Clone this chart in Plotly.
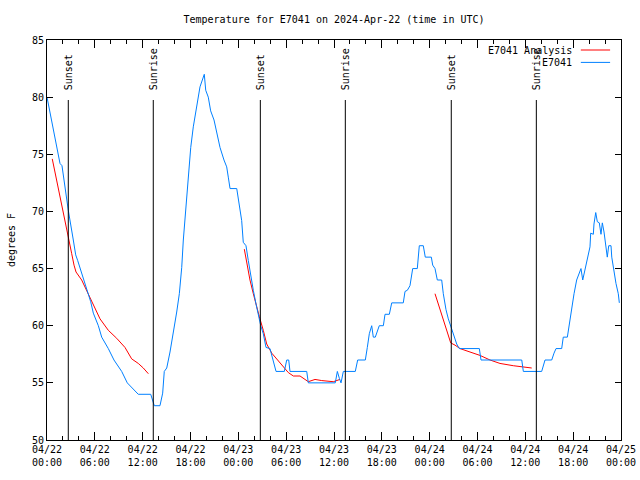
import plotly.graph_objects as go
import pandas as pd

START = pd.Timestamp("2024-04-22 00:00")
TITLE = "Temperature for E7041 on 2024-Apr-22 (time in UTC)"

# Observed temperature (hours after start, degrees F)
obs_hours = [0.0, 1.63, 1.88, 2.67, 3.30, 3.60, 3.85, 4.35, 4.98, 5.48, 5.81, 6.44, 6.86, 7.69, 8.40,
             9.37, 10.07, 11.45, 13.01, 13.33, 13.46, 14.17, 14.51, 14.71, 15.02, 15.43, 15.84, 16.27,
             16.60, 16.90, 17.10, 17.47, 17.72, 18.03, 18.35, 18.78, 19.19, 19.73, 19.91, 20.23, 20.53,
             20.95, 21.29, 21.70, 22.20, 22.54, 22.74, 22.96, 23.80, 24.00, 24.42, 24.62, 24.96, 25.25,
             25.55, 25.88, 26.22, 26.51, 26.81, 27.13, 27.47, 27.97, 28.31, 28.73, 29.77, 30.07, 30.32,
             30.48, 32.58, 32.78, 36.16, 36.42, 36.67, 36.88, 37.17, 38.67, 38.97, 39.93, 40.18, 40.43,
             40.73, 40.93, 41.18, 41.68, 42.19, 42.40, 42.94, 43.24, 44.69, 44.91, 45.20, 45.53, 45.87,
             46.45, 46.70, 47.20, 47.45, 48.21, 48.38, 48.67, 48.96, 49.51, 49.71, 49.84, 50.05, 50.34,
             50.64, 50.97, 51.39, 51.72, 54.23, 54.44, 59.55, 59.75, 62.05, 62.47, 63.31, 63.60, 63.85,
             64.56, 64.76, 65.27, 65.52, 65.82, 66.11, 66.44, 66.73, 66.98, 67.20, 67.49, 67.77, 68.11,
             68.20, 68.53, 68.61, 68.83, 69.03, 69.28, 69.49, 69.66, 69.87, 70.12, 70.28, 70.46, 70.75,
             70.84, 71.04, 71.37, 71.66, 71.79]
obs_temp = [80.0, 74.2, 74.0, 70.1, 67.5, 66.2, 65.7, 64.6, 63.3, 62.1, 61.1, 60.0, 59.0, 58.0, 57.0,
            56.0, 55.0, 54.0, 54.0, 53.3, 53.0, 53.0, 54.1, 56.0, 56.3, 57.7, 59.3, 61.2,
            62.8, 65.1, 67.5, 71.0, 73.3, 75.6, 77.4, 79.1, 80.9, 82.0, 80.6, 80.0, 78.8,
            78.0, 76.8, 75.6, 74.5, 73.9, 73.0, 72.0, 72.0, 71.0, 69.2, 67.3, 67.0, 65.7,
            64.3, 63.1, 61.9, 60.9, 60.0, 59.3, 58.1, 58.0, 57.0, 56.0, 56.0, 57.0, 57.0,
            56.0, 56.0, 55.0, 55.0, 56.0, 55.4, 55.0, 56.0, 56.0, 57.0, 57.0, 58.1, 59.3,
            60.0, 59.0, 59.0, 60.0, 60.0, 61.0, 61.0, 62.0, 62.0, 63.0, 63.1, 63.5, 65.0,
            65.0, 67.0, 67.0, 66.0, 66.0, 65.3, 65.0, 64.0, 64.0, 62.8, 62.2, 61.4, 60.6,
            60.0, 59.3, 58.4, 58.0, 58.0, 57.0, 57.0, 56.0, 56.0, 57.0, 57.0, 57.6, 58.0,
            58.0, 59.0, 59.0, 60.2, 61.6, 62.8, 64.0, 64.6, 65.0, 64.0, 65.0, 65.7, 66.9,
            68.1, 68.0, 68.9, 69.9, 69.1, 69.0, 68.0, 69.0, 68.2, 67.0, 66.0, 67.0, 67.0,
            66.0, 65.0, 63.7, 62.8, 62.0]

# Analysis temperature (None separates the nightly segments)
ana_hours = [0.66, 2.67, 3.10, 3.39, 3.64, 4.35, 5.18, 5.81, 6.65, 7.69, 8.74, 9.78, 10.62, 11.45, 12.08, 12.71,
             None,
             24.75, 25.05, 25.46, 25.88, 26.30, 26.63, 27.13, 27.56, 28.19, 29.23, 30.27, 30.90, 31.74,
             32.78, 33.62, 34.46, 35.91, 36.75,
             None,
             48.67, 49.08, 49.51, 50.14, 50.64, 51.18, 51.81, 53.06, 54.32, 55.57, 56.82, 58.49, 59.96, 60.80]
ana_temp = [74.6, 67.5, 66.3, 65.3, 64.7, 64.0, 62.8, 61.9, 60.6, 59.6, 58.9, 58.1, 57.1, 56.7, 56.3, 55.8,
            None,
            66.7, 65.4, 64.0, 62.8, 61.6, 60.8, 59.6, 58.4, 57.6, 56.7, 55.9, 55.6, 55.6,
            55.1, 55.3, 55.2, 55.1, 55.3,
            None,
            62.8, 61.9, 60.9, 59.5, 58.5, 58.3, 58.0, 57.7, 57.4, 57.0, 56.7, 56.5, 56.4, 56.3]

sun_names = ["Sunset", "Sunrise", "Sunset", "Sunrise", "Sunset", "Sunrise"]
sun_hours = [2.67, 13.33, 26.76, 37.42, 50.71, 61.38]

series_names = ["E7041 Analysis", "E7041"]
series_colors = ["#ff0000", "#0080ff"]


def to_time(hours):
    return [START + pd.Timedelta(hours=h) if h is not None else None for h in hours]


FONT = "DejaVu Sans Mono"

fig = go.Figure()
fig.add_trace(go.Scatter(x=to_time(ana_hours), y=ana_temp, mode="lines",
                         line=dict(color=series_colors[0], width=1), connectgaps=False,
                         name=series_names[0], showlegend=False))
fig.add_trace(go.Scatter(x=to_time(obs_hours), y=obs_temp, mode="lines",
                         line=dict(color=series_colors[1], width=1),
                         name=series_names[1], showlegend=False))

shapes = []
annotations = []
for name, h in zip(sun_names, sun_hours):
    t = START + pd.Timedelta(hours=h)
    shapes.append(dict(type="line", xref="x", yref="paper", x0=t, x1=t, y0=0, y1=0.85,
                       line=dict(color="black", width=1)))
    annotations.append(dict(x=t, y=0.87, xref="x", yref="paper", text=name, textangle=-90,
                            showarrow=False, xanchor="center", yanchor="bottom",
                            font=dict(family=FONT, size=10, color="black")))

# legend (gnuplot style: text right-aligned, sample to the right)
leg_y = [0.975, 0.944]
for name, col, ly in zip(series_names, series_colors, leg_y):
    annotations.append(dict(x=0.918, y=ly, xref="paper", yref="paper", text=name, showarrow=False,
                            xanchor="right", yanchor="middle",
                            font=dict(family=FONT, size=10, color="black")))
    shapes.append(dict(type="line", xref="paper", yref="paper", x0=0.930, x1=0.981, y0=ly, y1=ly,
                       line=dict(color=col, width=1)))

fig.update_layout(
    width=640, height=480,
    margin=dict(l=47, r=19, t=40, b=40, autoexpand=False),
    paper_bgcolor="white", plot_bgcolor="white",
    font=dict(family=FONT, size=10, color="black"),
    title=dict(text=TITLE, x=0.5, xref="paper", y=1 - 19 / 480, yref="container",
               xanchor="center", yanchor="middle", font=dict(family=FONT, size=10, color="black")),
    shapes=shapes, annotations=annotations, showlegend=False,
)
fig.update_xaxes(
    range=[START, START + pd.Timedelta(hours=72)], automargin=False,
    tick0=START, dtick=6 * 3600 * 1000, tickformat="%m/%d<br>%H:%M",
    ticks="inside", ticklen=8, tickcolor="black", showline=True, linecolor="black", linewidth=1,
    mirror="ticks", showgrid=False, zeroline=False,
    minor=dict(dtick=2 * 3600 * 1000, ticks="inside", ticklen=4, tickcolor="black", showgrid=False),
    tickfont=dict(family=FONT, size=10, color="black"),
)
fig.update_yaxes(
    range=[50, 85], dtick=5, automargin=False, ticks="inside", ticklen=6, tickcolor="black",
    showline=True, linecolor="black", linewidth=1, mirror="ticks", showgrid=False, zeroline=False,
    title=dict(text="degrees F", font=dict(family=FONT, size=10, color="black"), standoff=14),
    tickfont=dict(family=FONT, size=10, color="black"),
)

fig.write_html("out.html", config={"displayModeBar": False},
               post_script="document.body.style.margin='0';")
